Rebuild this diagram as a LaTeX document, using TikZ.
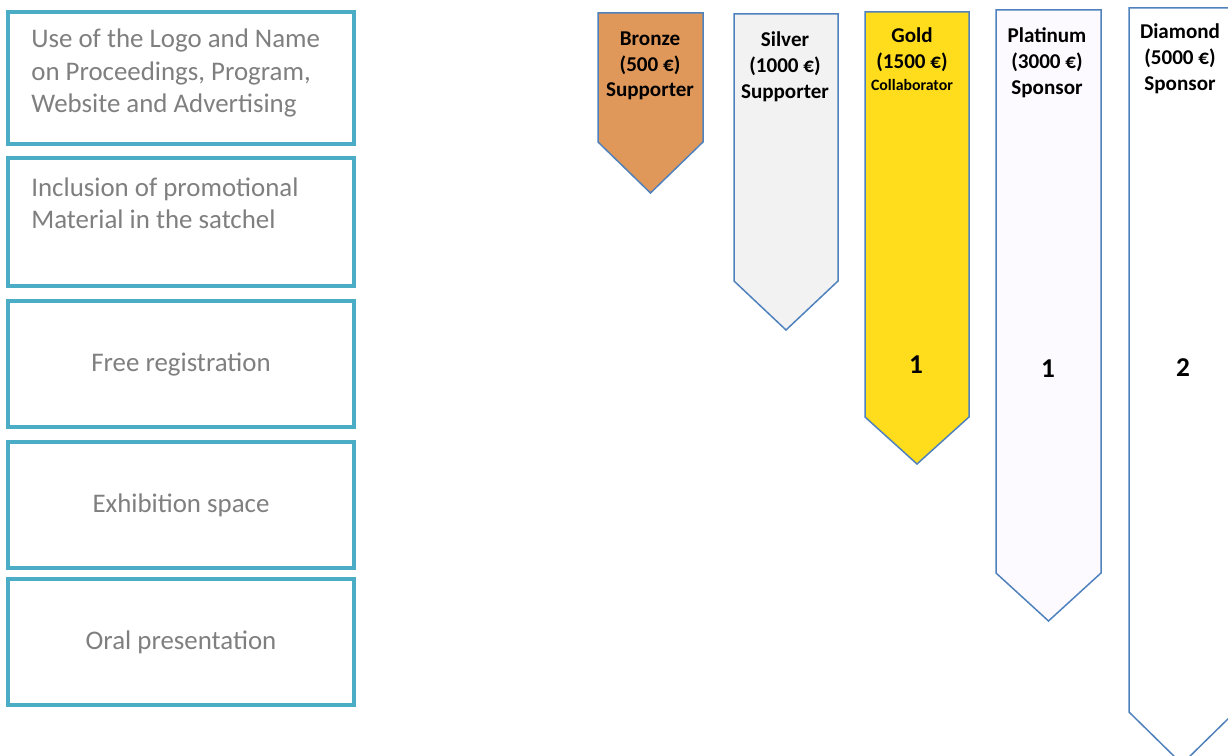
\documentclass[tikz,border=0pt]{standalone}
\usepackage{fontspec}
\setmainfont{Carlito}
\usepackage{tikz}
\usetikzlibrary{positioning}
\definecolor{boxteal}{HTML}{4BACC6}
\definecolor{perkgray}{HTML}{7F7F7F}
\definecolor{tierline}{HTML}{4F81BD}
\definecolor{bronzefill}{HTML}{E0985A}
\definecolor{silverfill}{HTML}{F2F2F2}
\definecolor{goldfill}{HTML}{FFDD1C}
\definecolor{platfill}{HTML}{FCFAFE}

\begin{document}
\begin{tikzpicture}[x=0.02cm, y=-0.02cm,
    benefit/.style={draw=boxteal, line width=2.8pt},
    perk/.style={text=perkgray, font=\fontsize{15.3}{18.3}\selectfont, inner sep=0pt},
    tier/.style={draw=tierline, line width=0.85pt, line join=miter},
    tiername/.style={font=\bfseries\fontsize{12}{14.7}\selectfont, align=center, inner sep=0pt},
    count/.style={font=\bfseries\fontsize{15.5}{17}\selectfont, inner sep=0pt}]
    \useasboundingbox (0,0) rectangle (1228,756);

    % Benefit boxes
    \draw[benefit] (8,12) rectangle (354,144);
    \draw[benefit] (8,158) rectangle (354,286);
    \draw[benefit] (8,301) rectangle (354,427);
    \draw[benefit] (8,442) rectangle (354,568);
    \draw[benefit] (8,579) rectangle (354,705);

    \node[perk, anchor=west, align=left] (logo) at (31,73)
        {Use of the Logo and Name\\on Proceedings, Program,\\Website and Advertising};
    \node[perk, anchor=west, align=left] (satchel) at (31,203)
        {Inclusion of promotional\\Material in the satchel};
    \node[perk] (registration) at (181,365) {Free registration};
    \node[perk] (exhibition) at (181,505.5) {Exhibition space};
    \node[perk] (oral) at (181,642.5) {Oral presentation};

    % Sponsor tiers (arrows pointing down)
    \draw[tier, fill=bronzefill] (598,13) -- (703,13) -- (703,142) -- (650.5,193) -- (598,142) -- cycle;
    \draw[tier, fill=silverfill] (734,14) -- (838,14) -- (838,281) -- (786,330) -- (734,281) -- cycle;
    \draw[tier, fill=goldfill] (865,12) -- (969,12) -- (969,417) -- (917,464) -- (865,417) -- cycle;
    \draw[tier, fill=platfill] (996,10) -- (1101,10) -- (1101,573) -- (1048.5,621) -- (996,573) -- cycle;
    \draw[tier, fill=white] (1129,8) -- (1235,8) -- (1235,712) -- (1182,764) -- (1129,712) -- cycle;

    \node[tiername] (bronze) at (650,66) {Bronze\\(500 €)\\Supporter};
    \node[tiername] (silver) at (785,67) {Silver\\(1000 €)\\Supporter};
    \node[tiername] (gold) at (912,59.5) {Gold\\(1500 €)\\[-2pt]{\fontsize{9}{11}\selectfont Collaborator}};
    \node[tiername] (platinum) at (1047,62.5) {Platinum\\(3000 €)\\Sponsor};
    \node[tiername] (diamond) at (1180,59) {Diamond\\(5000 €)\\Sponsor};

    % Number of each benefit
    \node[count] (goldreg) at (916,365) {1};
    \node[count] (platreg) at (1048,369) {1};
    \node[count] (diamreg) at (1183,368) {2};
\end{tikzpicture}
\end{document}
